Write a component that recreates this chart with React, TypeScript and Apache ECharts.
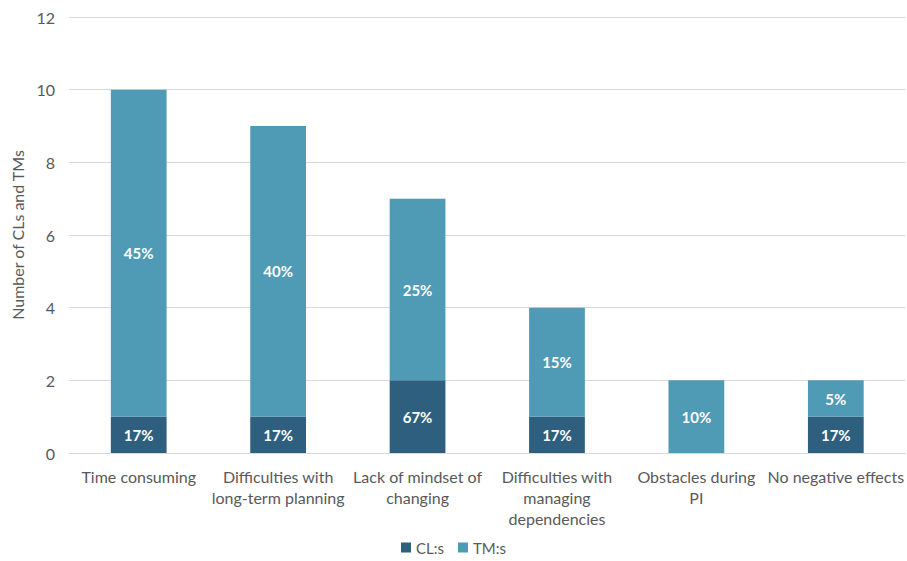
import React, { useEffect, useRef } from "react";
import * as echarts from "echarts";

const categories = [
  "Time consuming",
  "Difficulties with\nlong-term planning",
  "Lack of mindset of\nchanging",
  "Difficulties with\nmanaging\ndependencies",
  "Obstacles during\nPI",
  "No negative effects",
];
const clValues = [1, 1, 2, 1, 0, 1];
const tmValues = [9, 8, 5, 3, 2, 1];
const clShares = ["17%", "17%", "67%", "17%", "", "17%"];
const tmShares = ["45%", "40%", "25%", "15%", "10%", "5%"];

const FONT = "Lato, 'Open Sans', sans-serif";
const TEXT = "#595959";

export default function App() {
  const ref = useRef<HTMLDivElement>(null);

  useEffect(() => {
    document.body.style.margin = "0";
    const chart = echarts.init(ref.current!, undefined, { renderer: "svg" });
    const label = (shares: string[]) => ({
      show: true,
      color: "#ffffff",
      fontWeight: "bold" as const,
      fontSize: 15,
      fontFamily: FONT,
      formatter: (p: any) => shares[p.dataIndex],
    });
    chart.setOption({
      animation: false,
      textStyle: { fontFamily: FONT },
      grid: { left: 69, right: 0, top: 17, bottom: 108 },
      legend: {
        bottom: 1,
        left: "center",
        itemWidth: 10,
        itemHeight: 10,
        itemGap: 14,
        icon: "rect",
        textStyle: { color: TEXT, fontSize: 15, fontFamily: FONT },
        data: ["CL:s", "TM:s"],
      },
      xAxis: {
        type: "category",
        data: categories,
        axisTick: { show: false },
        axisLine: { lineStyle: { color: "#d9d9d9" } },
        axisLabel: {
          color: TEXT,
          fontSize: 16,
          lineHeight: 21,
          margin: 13,
          interval: 0,
          fontFamily: FONT,
        },
      },
      yAxis: {
        type: "value",
        min: 0,
        max: 12,
        interval: 2,
        name: "Number of CLs and TMs",
        nameLocation: "middle",
        nameGap: 41,
        nameTextStyle: { color: TEXT, fontSize: 16, fontFamily: FONT },
        axisLabel: { color: TEXT, fontSize: 16, margin: 14, fontFamily: FONT },
        splitLine: { lineStyle: { color: "#d9d9d9" } },
        axisLine: { show: false },
        axisTick: { show: false },
      },
      series: [
        {
          name: "CL:s",
          type: "bar",
          stack: "total",
          barWidth: "40%",
          data: clValues,
          itemStyle: { color: "#2E5F7E" },
          label: label(clShares),
        },
        {
          name: "TM:s",
          type: "bar",
          stack: "total",
          barWidth: "40%",
          data: tmValues,
          itemStyle: { color: "#4F9AB5" },
          label: label(tmShares),
        },
      ],
    });
    return () => chart.dispose();
  }, []);

  return (
    <div
      ref={ref}
      style={{ position: "absolute", left: 0, top: 0, width: 907, height: 561 }}
    />
  );
}
